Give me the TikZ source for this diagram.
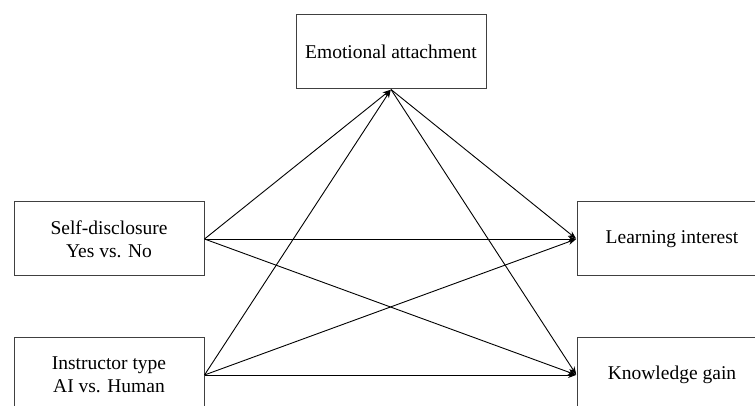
\documentclass[tikz,border=0pt]{standalone}
\usepackage{fontspec}
\setmainfont{Liberation Serif}
\usetikzlibrary{arrows.meta}

\tikzset{
	varbox/.style={draw=black!75, line width=1pt, minimum width=190pt, minimum height=74pt, align=center, inner sep=2pt, font=\fontsize{19.5}{23}\selectfont},
	path arrow/.style={-{Stealth[length=8pt, width=6pt]}, line width=0.9pt, shorten >=0.5pt}
}

\begin{document}
\begin{tikzpicture}[x=1pt, y=1pt]
	\useasboundingbox (0,0) rectangle (755,406);
	
	% Variables
	\node[varbox] (emo) at (391,354) {Emotional attachment};
	\node[varbox] (self) at (109,167) {Self-disclosure\\Yes vs. No};
	\node[varbox] (instr) at (109,31) {Instructor type\\AI vs. Human};
	\node[varbox] (interest) at (672,167) {Learning interest};
	\node[varbox] (gain) at (672,31) {Knowledge gain};
	
	% Paths from self-disclosure
	\draw[path arrow] (self.east) -- (emo.south);
	\draw[path arrow] (self.east) -- (interest.west);
	\draw[path arrow] (self.east) -- (gain.west);
	
	% Paths from instructor type
	\draw[path arrow] (instr.east) -- (emo.south);
	\draw[path arrow] (instr.east) -- (interest.west);
	\draw[path arrow] (instr.east) -- (gain.west);
	
	% Paths from emotional attachment
	\draw[path arrow] (emo.south) -- (interest.west);
	\draw[path arrow] (emo.south) -- (gain.west);
\end{tikzpicture}
\end{document}
